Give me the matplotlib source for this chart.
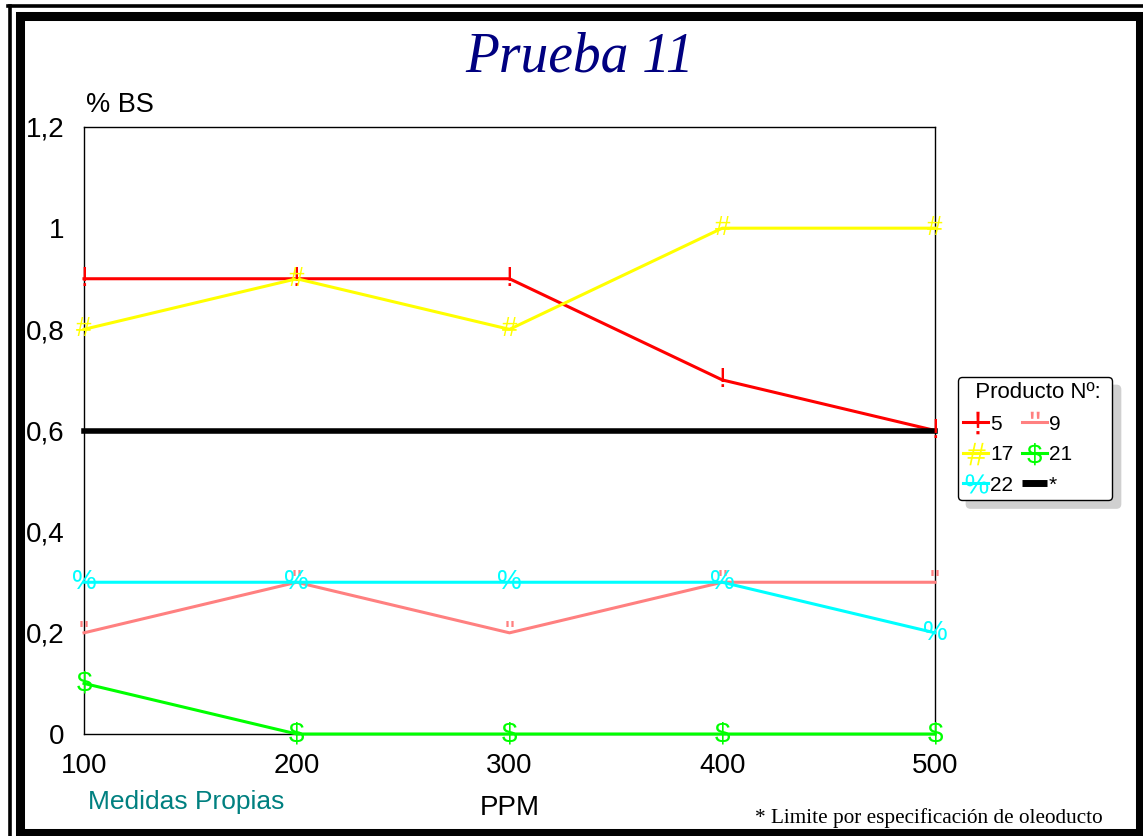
import matplotlib
matplotlib.use("Agg")
import matplotlib.pyplot as plt
from matplotlib.lines import Line2D
from matplotlib.patches import Rectangle
from matplotlib.textpath import TextPath
from matplotlib.font_manager import FontProperties
from matplotlib.path import Path

ppm = [100, 200, 300, 400, 500]
p5 = [0.9, 0.9, 0.9, 0.7, 0.6]
p9 = [0.2, 0.3, 0.2, 0.3, 0.3]
p17 = [0.8, 0.9, 0.8, 1.0, 1.0]
p21 = [0.1, 0.0, 0.0, 0.0, 0.0]
p22 = [0.3, 0.3, 0.3, 0.3, 0.2]
limite = [0.6, 0.6, 0.6, 0.6, 0.6]
yticks = [0, 0.2, 0.4, 0.6, 0.8, 1.0, 1.2]
ylabels = ["0", "0,2", "0,4", "0,6", "0,8", "1", "1,2"]

series = [
    ("5", p5, "#FF0000", "!"),
    ("9", p9, "#FF8080", '"'),
    ("17", p17, "#FFFF00", "#"),
    ("21", p21, "#00FF00", "$"),
    ("22", p22, "#00FFFF", "%"),
]

fp = FontProperties(family='Liberation Sans')


def glyph_marker(ch):
    tp = TextPath((0, 0), ch, size=10, prop=fp)
    v = tp.vertices.copy()
    v[:, 0] -= (v[:, 0].min() + v[:, 0].max()) / 2
    v[:, 1] -= 3.6
    return Path(v, tp.codes)


W, H = 1143, 836
fig = plt.figure(figsize=(W / 100, H / 100), dpi=100)
plt.rcParams['font.family'] = ['Liberation Sans', 'DejaVu Sans']

ax = fig.add_axes([84 / W, 1 - 734 / H, 851 / W, 607 / H])
ax.set_xlim(100, 500)
ax.set_ylim(0, 1.2)

handles = {}
for name, vals, col, g in series:
    ax.plot(ppm, vals, color=col, lw=2.2, zorder=3, clip_on=False)
    for x, y in zip(ppm, vals):
        ax.text(x, y, g, color=col, fontsize=20, ha='center', va='center',
                zorder=5, clip_on=False, family='Liberation Sans')
    handles[name] = Line2D([], [], color=col, lw=2.2, marker=glyph_marker(g),
                           markersize=17, markeredgewidth=0)
ax.plot(ppm, limite, color='black', lw=4, zorder=4, clip_on=False)
handles["*"] = Line2D([], [], color='black', lw=5, solid_capstyle='butt')

ax.set_xticks(ppm)
ax.set_xticklabels([str(v) for v in ppm], fontsize=20)
ax.set_yticks(yticks)
ax.set_yticklabels(ylabels, fontsize=20)
ax.tick_params(length=0, pad=14)
ax.tick_params(axis='x', pad=14)
for s in ax.spines.values():
    s.set_linewidth(1.0)
    s.set_color('black')

order = ["5", "17", "22", "9", "21", "*"]
leg = fig.legend([handles[k] for k in order], order, title="  Producto Nº: ",
                 ncol=2, loc='upper left', alignment='left',
                 bbox_to_anchor=(958 / W, 1 - 377 / H), bbox_transform=fig.transFigure,
                 borderaxespad=0, fontsize=15, title_fontsize=16,
                 fancybox=True,
                 shadow={'color': '#d0d0d0', 'alpha': 1, 'ox': 6, 'oy': -6},
                 edgecolor='black', framealpha=1, handlelength=1.2,
                 handletextpad=0.1, columnspacing=0.4, labelspacing=0.55,
                 borderpad=0.25)
leg.get_frame().set_linewidth(1.0)

fig.text(580 / W, 1 - 58 / H, "Prueba 11", family='Liberation Serif', style='italic',
         fontsize=40, color='#000080', ha='center', va='center')
fig.text(86 / W, 1 - 105 / H, "% BS", fontsize=19.5, ha='left', va='center')
fig.text(88 / W, 1 - 802 / H, "Medidas Propias", fontsize=19, color='#008080',
         ha='left', va='center')
fig.text(510 / W, 1 - 808 / H, "PPM", fontsize=20, ha='center', va='center')
fig.text(1103 / W, 1 - 818 / H, "* Limite por especificación de oleoducto",
         family='Liberation Serif', fontsize=15.3, ha='right', va='center')


def px_rect(x0, y0, x1, y1, lw):
    fig.patches.append(Rectangle((x0 / W, 1 - y1 / H), (x1 - x0) / W, (y1 - y0) / H,
                                 transform=fig.transFigure, fill=False,
                                 edgecolor='black', lw=lw, figure=fig))


fig.add_artist(Line2D([9.5 / W, 9.5 / W], [0, 1 - 5.5 / H], color='black', lw=2.6,
                      transform=fig.transFigure))
fig.add_artist(Line2D([8 / W, 1], [1 - 5.5 / H, 1 - 5.5 / H], color='black', lw=2.6,
                      transform=fig.transFigure))
px_rect(19.5, 15.5, 1139.5, 832.5, 6.5)

fig.savefig("out.png", dpi=100)
